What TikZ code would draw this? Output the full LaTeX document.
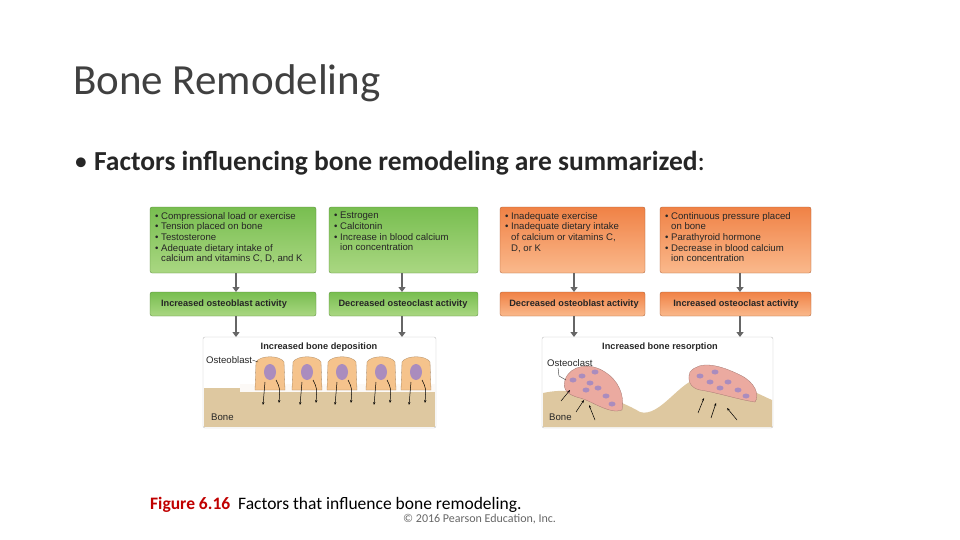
\documentclass[tikz,border=0pt]{standalone}
\usepackage{fontspec}
\setmainfont{Carlito}
\newfontfamily\boxf{Liberation Sans}
\usetikzlibrary{arrows.meta}
\definecolor{gtop}{RGB}{120,190,80}
\definecolor{gbot}{RGB}{170,215,130}
\definecolor{otop}{RGB}{240,130,70}
\definecolor{obot}{RGB}{250,185,140}
\definecolor{sand}{RGB}{222,200,160}
\definecolor{cell}{RGB}{245,195,140}
\definecolor{nuc}{RGB}{170,140,190}
\definecolor{ocell}{RGB}{235,170,160}
\definecolor{figred}{RGB}{192,0,0}
\begin{document}
\begin{tikzpicture}[x=1pt,y=-1pt,
 gbox/.style={draw=gtop!70!black,line width=0.3pt,rounded corners=2pt,top color=gtop,bottom color=gbot},
 obox/.style={draw=otop!70!black,line width=0.3pt,rounded corners=2pt,top color=otop,bottom color=obot},
 btxt/.style={font=\boxf\fontsize{9.6}{10.7}\selectfont,align=left,anchor=north west,inner sep=0pt,text=black!85},
 ltxt/.style={font=\boxf\bfseries\fontsize{9.2}{11}\selectfont,text=black!85,inner sep=0pt},
 stxt/.style={font=\boxf\fontsize{9.6}{11}\selectfont,anchor=west,inner sep=0pt,text=black!85},
 arr/.style={draw=black!60,line width=1.6pt,-{Triangle[length=5pt,width=7pt]}},
 panel/.style={draw=black!25,fill=white,rounded corners=2pt}]
\useasboundingbox (0,0) rectangle (960,540);
\node[anchor=base west,inner sep=0pt,font=\fontsize{43}{48}\selectfont,text=black!75] (title) at (73,95) {Bone Remodeling};
\node[anchor=base west,inner sep=0pt,font=\fontsize{27.5}{31}\selectfont,text=black!85] (bul) at (74,171) {•\ \textbf{Factors influencing bone remodeling are summarized}:};
% top boxes
\path[gbox] (150,207) rectangle (316,273); \coordinate (g1b) at (236,273);
\path[gbox] (329,207) rectangle (478,273); \coordinate (g2b) at (402,273);
\path[obox] (500,207) rectangle (645,273); \coordinate (o1b) at (574,273);
\path[obox] (660,207) rectangle (811,273); \coordinate (o2b) at (740,273);
\node[btxt] (t1) at (155,212) {• Compressional load or exercise\\• Tension placed on bone\\• Testosterone\\• Adequate dietary intake of\\\phantom{• }calcium and vitamins C, D, and K};
\node[btxt] (t2) at (334,212) {• Estrogen\\• Calcitonin\\• Increase in blood calcium\\\phantom{• }ion concentration};
\node[btxt] (t3) at (505,212) {• Inadequate exercise\\• Inadequate dietary intake\\\phantom{• }of calcium or vitamins C,\\\phantom{• }D, or K};
\node[btxt] (t4) at (665,212) {• Continuous pressure placed\\\phantom{• }on bone\\• Parathyroid hormone\\• Decrease in blood calcium\\\phantom{• }ion concentration};
% second row
\path[gbox] (150,292) rectangle (316,316); \path[gbox] (329,292) rectangle (478,316);
\path[obox] (500,292) rectangle (645,316); \path[obox] (660,292) rectangle (811,316);
\node[ltxt] (a1) at (224,304) {Increased osteoblast activity};
\node[ltxt] (a2) at (403,304) {Decreased osteoclast activity};
\node[ltxt] (a3) at (574,304) {Decreased osteoblast activity};
\node[ltxt] (a4) at (736,304) {Increased osteoclast activity};
\draw[arr] (g1b) -- (236,292); \draw[arr] (g2b) -- (402,292);
\draw[arr] (o1b) -- (574,292); \draw[arr] (o2b) -- (740,292);
\draw[arr] (236,316) -- (236,337); \draw[arr] (402,316) -- (402,337);
\draw[arr] (574,316) -- (574,337); \draw[arr] (740,316) -- (740,337);
% deposition panel
\path[panel] (203,337) rectangle (436,428);
\fill[sand] (204,388) -- (435,388) -- (435,427) -- (204,427) -- cycle;
\fill[white!90!sand] (240,384) rectangle (435,392);
\foreach \x in {270,307,342,381,416}{
 \path[fill=cell,draw=cell!70!black,line width=0.3pt] (\x-15,390) -- (\x-14,362) .. controls (\x-10,355) and (\x+10,355) .. (\x+14,362) -- (\x+15,390) -- cycle;
 \fill[nuc] (\x,372) ellipse (6pt and 8pt);
 \draw[-{Stealth[length=3pt]},line width=0.5pt] (\x-5,382) -- (\x-7,405);
 \draw[-{Stealth[length=3pt]},line width=0.5pt] (\x+6,380) .. controls (\x+10,388) .. (\x+9,403);}
\node[ltxt] (dep) at (319,347) {Increased bone deposition};
\node[stxt] (ob) at (206,360) {Osteoblast};
\draw[line width=0.3pt] (ob.east) -- (258,362);
\node[stxt] (bn1) at (211,417) {Bone};
% resorption panel
\path[panel] (542,337) rectangle (773,428);
\fill[sand] (543,393) .. controls (580,385) and (620,400) .. (640,412) .. controls (660,418) and (680,380) .. (700,378) .. controls (730,378) and (760,395) .. (772,400) -- (772,427) -- (543,427) -- cycle;
\path[fill=ocell,draw=ocell!70!black,line width=0.3pt] (565,380) .. controls (570,365) and (590,362) .. (605,372) .. controls (618,380) and (625,395) .. (622,410) .. controls (610,415) and (590,400) .. (580,398) .. controls (568,395) and (562,390) .. (565,380) -- cycle;
\path[fill=ocell,draw=ocell!70!black,line width=0.3pt] (690,372) .. controls (700,360) and (720,365) .. (740,375) .. controls (755,382) and (760,395) .. (755,402) .. controls (740,400) and (715,392) .. (700,390) .. controls (690,388) and (687,380) .. (690,372) -- cycle;
\foreach \p in {(573,380),(582,376),(590,383),(598,388),(606,396),(612,404),(595,372),(586,390)} \fill[nuc] \p ellipse (3.5pt and 2.5pt);
\foreach \p in {(700,376),(710,382),(720,388),(728,382),(738,390),(746,396),(715,372)} \fill[nuc] \p ellipse (3.5pt and 2.5pt);
\foreach \a/\b in {{(561,401)}/{(570,390)},{(576,412)}/{(584,400)},{(595,420)}/{(589,405)},{(698,413)}/{(704,398)},{(711,418)}/{(716,403)},{(737,420)}/{(727,408)}}
 \draw[-{Stealth[length=3pt]},line width=0.5pt] \a -- \b;
\node[ltxt] (res) at (660,347) {Increased bone resorption};
\node[stxt] (oc) at (547,363) {Osteoclast};
\draw[line width=0.3pt] (558,368) -- (559,376) -- (566,380);
\node[stxt] (bn2) at (549,417) {Bone};
% caption
\node[anchor=base west,inner sep=0pt,font=\fontsize{17.5}{20}\selectfont] (cap) at (150,509) {\textcolor{figred}{\textbf{Figure 6.16}}\ \ Factors that influence bone remodeling.};
\node[anchor=base west,inner sep=0pt,font=\fontsize{12}{14}\selectfont,text=black!60] (cpy) at (403,522) {© 2016 Pearson Education, Inc.};
\end{tikzpicture}
\end{document}
